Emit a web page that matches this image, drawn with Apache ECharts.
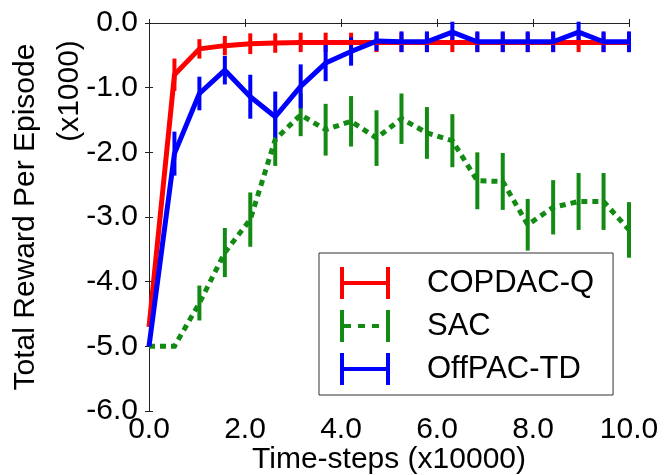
<!DOCTYPE html>
<html>
<head>
<meta charset="utf-8">
<script src="https://cdn.jsdelivr.net/npm/echarts@6/dist/echarts.min.js"></script>
<style>
  html, body { margin: 0; padding: 0; background: #fff; }
  #chart { width: 664px; height: 475px; }
</style>
</head>
<body>
<div id="chart"></div>
<script>
// ---- data (x in units of 10000 time-steps, y in units of 1000) ----
var timesteps = [0, 0.53, 1.05, 1.58, 2.11, 2.63, 3.16, 3.68, 4.21, 4.74,
                 5.26, 5.79, 6.32, 6.84, 7.37, 7.89, 8.42, 8.95, 9.47, 10.0];

var copdacMean = [-4.7, -0.80, -0.40, -0.35, -0.32, -0.31, -0.30, -0.30, -0.30, -0.30,
                  -0.30, -0.30, -0.30, -0.30, -0.30, -0.30, -0.30, -0.30, -0.30, -0.30];
var copdacErr  = [0, 0.25, 0.15, 0.15, 0.16, 0.15, 0.15, 0.15, 0.15, 0.15,
                  0.15, 0.15, 0.15, 0.15, 0.15, 0.15, 0.15, 0.15, 0.15, 0.15];

var sacMean = [-5.0, -5.0, -4.33, -3.55, -3.04, -1.80, -1.42, -1.65, -1.52, -1.78,
               -1.48, -1.70, -1.82, -2.44, -2.45, -3.12, -2.85, -2.76, -2.76, -3.20];
var sacErr  = [0, 0.03, 0.27, 0.38, 0.42, 0.41, 0.33, 0.40, 0.39, 0.43,
               0.39, 0.40, 0.41, 0.44, 0.44, 0.40, 0.42, 0.44, 0.44, 0.43];

var offpacMean = [-5.0, -2.02, -1.09, -0.73, -1.14, -1.45, -0.98, -0.62, -0.44, -0.28,
                  -0.29, -0.29, -0.14, -0.29, -0.29, -0.29, -0.29, -0.14, -0.29, -0.29];
var offpacErr  = [0, 0.34, 0.26, 0.22, 0.34, 0.39, 0.34, 0.28, 0.22, 0.15,
                  0.16, 0.16, 0.16, 0.16, 0.16, 0.16, 0.16, 0.16, 0.16, 0.16];

var seriesNames = ['COPDAC-Q', 'SAC', 'OffPAC-TD'];
var xTicks = { min: 0, max: 10, interval: 2 };
var yTicks = { min: -6, max: 0, interval: 1 };

// ---- styling ----
var FONT = '"Liberation Sans", Arial, Helvetica, sans-serif';
var RED = '#ff0000', GREEN = '#138a13', BLUE = '#0000ff';

function pairs(xs, ys) { return xs.map(function (x, i) { return [x, ys[i]]; }); }

function errSeries(name, color, mean, err) {
  return {
    type: 'custom',
    name: name,
    color: color,
    xAxisIndex: 0, yAxisIndex: 0,
    data: timesteps.map(function (x, i) { return [x, mean[i] - err[i], mean[i] + err[i]]; }),
    encode: { x: 0, y: [1, 2] },
    renderItem: function (params, api) {
      var lo = api.coord([api.value(0), api.value(1)]);
      var hi = api.coord([api.value(0), api.value(2)]);
      return {
        type: 'line',
        shape: { x1: lo[0], y1: lo[1], x2: hi[0], y2: hi[1] },
        style: { stroke: color, lineWidth: 4, lineCap: 'butt' }
      };
    },
    silent: true
  };
}

function lineSeries(name, color, mean, dashed) {
  return {
    type: 'line',
    name: name,
    color: color,
    xAxisIndex: 0, yAxisIndex: 0,
    data: pairs(timesteps, mean),
    symbol: 'none',
    lineStyle: { color: color, width: 5, type: dashed ? [6, 5] : 'solid', cap: 'butt', join: 'round' },
    silent: true
  };
}

var iconSolid = 'path://M0,0H4V32H0Z M0,14H50V18H0Z M46,0H50V32H46Z';
var iconDashed = 'path://M0,0H4V32H0Z M4,14H11V18H4Z M18,14H25V18H18Z M32,14H39V18H32Z M46,0H50V32H46Z';

var axisLineStyle = { color: '#222', width: 1 };
var tickStyle = { show: true, inside: true, length: 4, lineStyle: { color: '#222', width: 1 } };

var chart = echarts.init(document.getElementById('chart'), null, { renderer: 'canvas' });
chart.setOption({
  animation: false,
  backgroundColor: '#fff',
  textStyle: { fontFamily: FONT },
  grid: { left: 149, right: 35, top: 23, bottom: 64, containLabel: false, outerBoundsMode: 'none' },
  xAxis: [{
    type: 'value', min: xTicks.min, max: xTicks.max, interval: xTicks.interval,
    position: 'bottom',
    name: 'Time-steps (x10000)', nameLocation: 'middle', nameGap: 34, nameMoveOverlap: false,
    nameTextStyle: { fontFamily: FONT, fontSize: 30, color: '#000' },
    axisLine: { show: true, lineStyle: axisLineStyle },
    axisTick: tickStyle,
    axisLabel: { fontFamily: FONT, fontSize: 30, color: '#000', margin: 4,
                 formatter: function (v) { return v.toFixed(1); } },
    splitLine: { show: false }
  }, {
    type: 'value', min: xTicks.min, max: xTicks.max, interval: xTicks.interval,
    position: 'top',
    axisLine: { show: true, lineStyle: axisLineStyle },
    axisTick: tickStyle,
    axisLabel: { show: false },
    splitLine: { show: false }
  }],
  yAxis: [{
    type: 'value', min: yTicks.min, max: yTicks.max, interval: yTicks.interval,
    position: 'left',
    name: 'Total Reward Per Episode', nameLocation: 'middle', nameGap: 108, nameRotate: 90,
    nameMoveOverlap: false,
    nameTextStyle: { fontFamily: FONT, fontSize: 30, color: '#000' },
    axisLine: { show: true, lineStyle: axisLineStyle },
    axisTick: tickStyle,
    axisLabel: { fontFamily: FONT, fontSize: 30, color: '#000', margin: 11,
                 formatter: function (v) { return v.toFixed(1); } },
    splitLine: { show: false }
  }, {
    type: 'value', min: yTicks.min, max: yTicks.max, interval: yTicks.interval,
    position: 'right',
    axisLine: { show: true, lineStyle: axisLineStyle },
    axisTick: tickStyle,
    axisLabel: { show: false },
    splitLine: { show: false }
  }],
  legend: {
    show: true,
    orient: 'vertical',
    left: 319, top: 253,
    padding: [14, 19, 10, 21],
    itemGap: 11,
    itemWidth: 50, itemHeight: 32,
    backgroundColor: '#fff',
    borderColor: '#333', borderWidth: 1, borderRadius: 0,
    selectedMode: false,
    textStyle: { fontFamily: FONT, fontSize: 31, color: '#000', padding: [0, 0, 0, 32] },
    data: [
      { name: seriesNames[0], icon: iconSolid, itemStyle: { color: RED } },
      { name: seriesNames[1], icon: iconDashed, itemStyle: { color: GREEN } },
      { name: seriesNames[2], icon: iconSolid, itemStyle: { color: BLUE } }
    ]
  },
  graphic: [{
    type: 'text',
    x: 70, y: 91,
    rotation: Math.PI / 2,
    style: { text: '(x1000)', font: '30px ' + FONT, fill: '#000', align: 'center', verticalAlign: 'middle' }
  }],
  series: [
    lineSeries(seriesNames[0], RED, copdacMean, false),
    errSeries(seriesNames[0], RED, copdacMean, copdacErr),
    lineSeries(seriesNames[1], GREEN, sacMean, true),
    errSeries(seriesNames[1], GREEN, sacMean, sacErr),
    lineSeries(seriesNames[2], BLUE, offpacMean, false),
    errSeries(seriesNames[2], BLUE, offpacMean, offpacErr)
  ]
});
</script>
</body>
</html>
